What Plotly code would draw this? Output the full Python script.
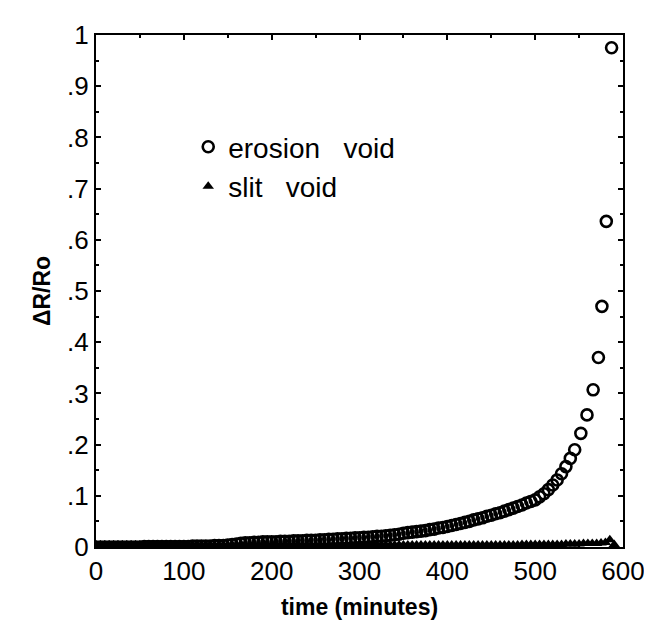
import plotly.graph_objects as go

# erosion void: time (minutes) and dR/Ro
erosion_time = list(range(0, 550, 5)) + [552, 559, 566, 572, 576, 581, 587]
erosion_val = [
    0.000, 0.000, 0.000, 0.000, 0.000, 0.000, 0.000, 0.000, 0.000, 0.000,
    0.000, 0.001, 0.001, 0.001, 0.001, 0.001, 0.001, 0.001, 0.001, 0.001,
    0.001, 0.001, 0.002, 0.002, 0.002, 0.002, 0.002, 0.003, 0.003, 0.003,
    0.004, 0.005, 0.006, 0.007, 0.008, 0.008, 0.009, 0.009, 0.010, 0.010,
    0.010, 0.010, 0.011, 0.011, 0.011, 0.012, 0.012, 0.012, 0.013, 0.013,
    0.013, 0.014, 0.014, 0.015, 0.015, 0.016, 0.016, 0.017, 0.017, 0.018,
    0.018, 0.019, 0.019, 0.020, 0.021, 0.021, 0.022, 0.023, 0.024, 0.025,
    0.027, 0.028, 0.029, 0.030, 0.031, 0.032, 0.034, 0.035, 0.037, 0.038,
    0.040, 0.042, 0.044, 0.046, 0.048, 0.050, 0.053, 0.055, 0.057, 0.060,
    0.062, 0.065, 0.067, 0.070, 0.073, 0.076, 0.079, 0.082, 0.086, 0.089,
    0.092, 0.098, 0.104, 0.112, 0.121, 0.131, 0.143, 0.157, 0.173, 0.190,
    0.222, 0.258, 0.307, 0.370, 0.470, 0.636, 0.975,
]

# slit void
slit_time = list(range(0, 595, 5))
slit_val = [
    0.004, 0.004, 0.004, 0.004, 0.004, 0.004, 0.004, 0.004, 0.004, 0.004,
    0.004, 0.004, 0.004, 0.004, 0.004, 0.004, 0.004, 0.004, 0.004, 0.004,
    0.004, 0.004, 0.004, 0.004, 0.004, 0.004, 0.004, 0.004, 0.004, 0.004,
    0.004, 0.004, 0.004, 0.004, 0.004, 0.004, 0.004, 0.004, 0.004, 0.004,
    0.004, 0.004, 0.004, 0.004, 0.004, 0.004, 0.004, 0.004, 0.004, 0.004,
    0.004, 0.004, 0.004, 0.004, 0.004, 0.004, 0.004, 0.004, 0.004, 0.004,
    0.004, 0.004, 0.004, 0.004, 0.004, 0.004, 0.004, 0.004, 0.004, 0.004,
    0.004, 0.004, 0.004, 0.004, 0.004, 0.004, 0.004, 0.004, 0.004, 0.004,
    0.004, 0.004, 0.004, 0.004, 0.004, 0.004, 0.004, 0.004, 0.004, 0.004,
    0.004, 0.004, 0.004, 0.004, 0.004, 0.004, 0.004, 0.005, 0.005, 0.005,
    0.005, 0.005, 0.005, 0.005, 0.005, 0.005, 0.005, 0.006, 0.006, 0.006,
    0.006, 0.007, 0.007, 0.007, 0.007, 0.008, 0.009, 0.014, 0.005,
]

y_ticks = [0, 0.1, 0.2, 0.3, 0.4, 0.5, 0.6, 0.7, 0.8, 0.9, 1]
y_labels = ["0", ".1", ".2", ".3", ".4", ".5", ".6", ".7", ".8", ".9", "1"]
x_ticks = [0, 100, 200, 300, 400, 500, 600]
x_labels = ["0", "100", "200", "300", "400", "500", "600"]

font = "Liberation Sans, Arial, sans-serif"

fig = go.Figure()
fig.add_trace(go.Scatter(
    x=erosion_time, y=erosion_val, mode="markers", name="erosion\u00a0\u00a0\u00a0void",
    marker=dict(symbol="circle-open", size=11, color="black", line=dict(width=2.6, color="black")),
))
fig.add_trace(go.Scatter(
    x=slit_time, y=slit_val, mode="markers", name="slit\u00a0\u00a0\u00a0void",
    marker=dict(symbol="triangle-up", size=10, color="black"),
))

axis_common = dict(
    showline=True, linecolor="black", linewidth=2, mirror="allticks",
    ticks="inside", ticklen=5, tickwidth=1.5, tickcolor="black",
    showgrid=False, zeroline=False,
    tickfont=dict(family=font, size=26, color="black"),
)

fig.update_xaxes(
    range=[0, 600], tickvals=x_ticks, ticktext=x_labels,
    minor=dict(dtick=50, ticks="inside", ticklen=3, tickcolor="black"),
    title=dict(text="<b>time (minutes)</b>", font=dict(family=font, size=23, color="black"), standoff=14),
    **axis_common,
)
fig.update_yaxes(
    range=[0, 1], tickvals=y_ticks, ticktext=y_labels,
    minor=dict(dtick=0.05, ticks="inside", ticklen=3, tickcolor="black"),
    title=dict(text="<b>ΔR/Ro</b>", font=dict(family=font, size=23, color="black"), standoff=10),
    **axis_common,
)

fig.update_layout(
    width=652, height=620,
    margin=dict(l=88, r=37, t=15, b=78),
    paper_bgcolor="white", plot_bgcolor="white",
    showlegend=True,
    legend=dict(
        x=0.175, y=0.83, xanchor="left", yanchor="top",
        bgcolor="rgba(0,0,0,0)", borderwidth=0,
        font=dict(family=font, size=28, color="black"),
        itemwidth=30, tracegroupgap=0,
    ),
)

fig.write_html("out.html")
